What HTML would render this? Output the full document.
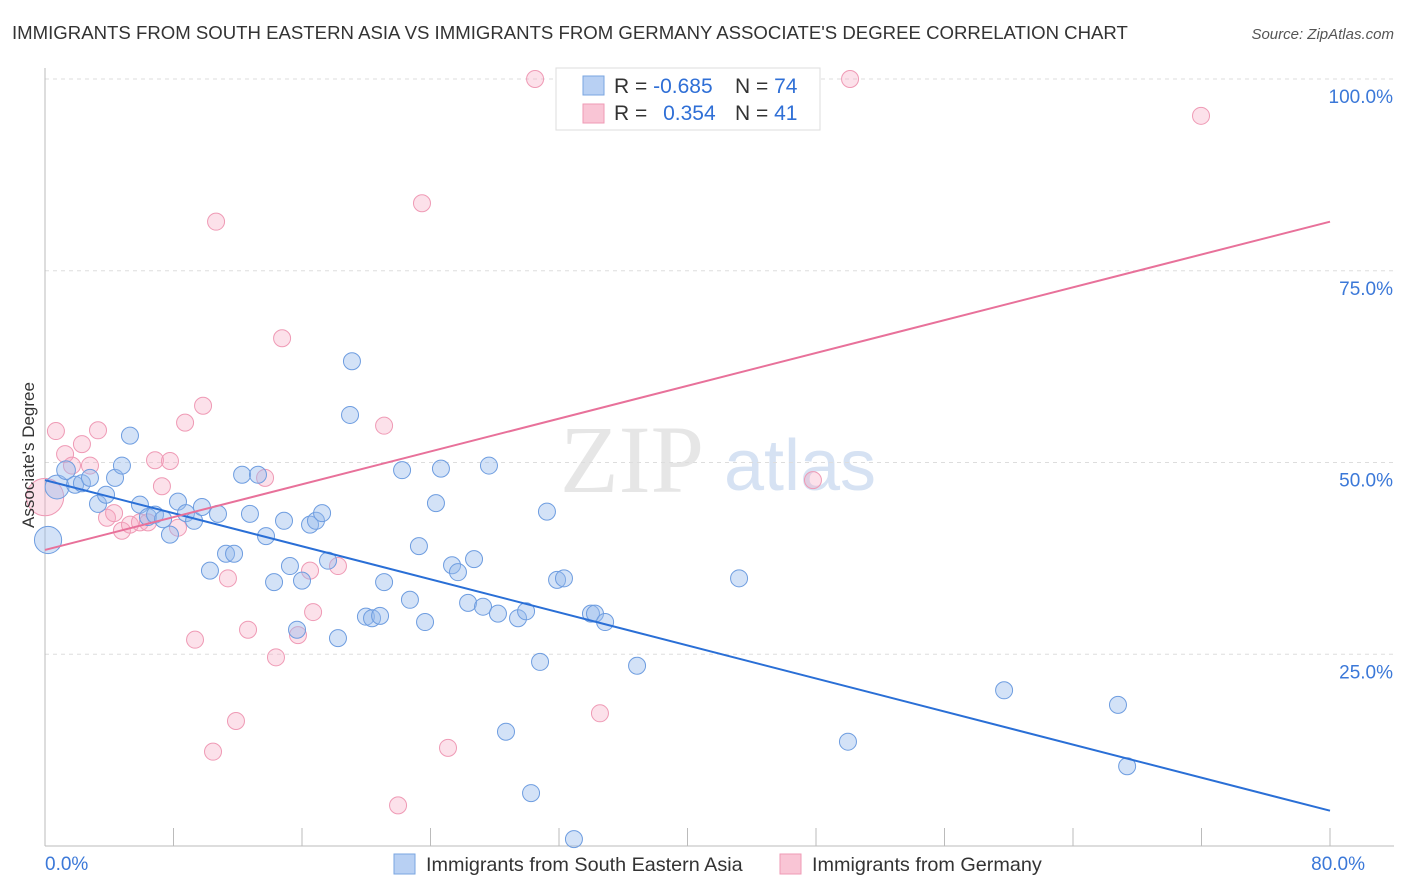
<!DOCTYPE html>
<html><head><meta charset="utf-8"><style>
body{margin:0;background:#fff;font-family:"Liberation Sans",sans-serif;}
svg{display:block}
</style></head><body>
<svg id="chart" width="1406" height="892" xmlns="http://www.w3.org/2000/svg">
<text x="12" y="39" font-size="18.6" fill="#333">IMMIGRANTS FROM SOUTH EASTERN ASIA VS IMMIGRANTS FROM GERMANY ASSOCIATE'S DEGREE CORRELATION CHART</text>
<text x="1394" y="39" font-size="15" fill="#555" font-style="italic" text-anchor="end">Source: ZipAtlas.com</text>
<text x="632" y="492" font-size="96" fill="#e6e6e6" font-family="Liberation Serif,serif" text-anchor="middle">ZIP</text>
<text x="800" y="490" font-size="72" fill="#d6e2f3" text-anchor="middle">atlas</text>
<g id="grid"></g>
<g id="marks"></g>
<text transform="translate(34,455) rotate(-90)" font-size="17" fill="#333" text-anchor="middle">Associate's Degree</text>
<g>
<rect x="556" y="68" width="264" height="62" fill="#fff" stroke="#ddd"/>
<rect x="583" y="76" width="21" height="19" fill="#b8d0f3" stroke="#7aa6e0"/>
<rect x="583" y="104" width="21" height="19" fill="#f9c5d5" stroke="#ef9ab5"/>
<text x="614" y="93" font-size="21" fill="#333">R = <tspan fill="#2f6fd6">-0.685</tspan></text>
<text x="735" y="93" font-size="21" fill="#333">N = <tspan fill="#2f6fd6">74</tspan></text>
<text x="614" y="120" font-size="21" fill="#333">R = <tspan fill="#2f6fd6" dx="10">0.354</tspan></text>
<text x="735" y="120" font-size="21" fill="#333">N = <tspan fill="#2f6fd6">41</tspan></text>
</g>
<g>
<rect x="394" y="854" width="21" height="20" fill="#b8d0f3" stroke="#7aa6e0"/>
<text x="426" y="871" font-size="19.8" fill="#333">Immigrants from South Eastern Asia</text>
<rect x="780" y="854" width="21" height="20" fill="#f9c5d5" stroke="#ef9ab5"/>
<text x="812" y="871" font-size="19.8" fill="#333">Immigrants from Germany</text>
</g>
</svg>
<script>
const blueX=[0.75,1.31,1.87,2.30,2.80,3.30,3.80,4.36,4.79,5.29,5.91,6.41,6.85,7.35,7.78,8.28,8.78,9.28,9.77,10.27,10.77,11.27,11.77,12.27,12.76,13.26,13.76,14.26,14.88,15.25,15.69,16.00,16.50,16.87,17.25,17.62,18.24,18.99,19.11,19.98,20.36,20.86,21.11,22.23,22.72,23.28,23.66,24.34,24.65,25.34,25.71,26.34,26.71,27.27,27.64,28.20,28.70,29.45,29.95,30.26,30.82,31.25,31.88,32.31,32.93,33.99,34.24,34.87,36.86,43.21,49.99,59.71,66.80,67.37,0.19];
const blueY=[46.8,49.0,47.1,47.3,48.0,44.6,45.8,48.0,49.6,53.5,44.5,42.9,43.2,42.6,40.6,44.9,43.4,42.4,44.2,35.9,43.3,38.1,38.1,48.4,43.3,48.4,40.4,34.4,42.4,36.5,28.2,34.6,41.9,42.4,43.4,37.2,27.1,56.2,63.2,29.9,29.7,30.0,34.4,49.0,32.1,39.1,29.2,44.7,49.2,36.6,35.7,31.7,37.4,31.2,49.6,30.3,14.9,29.7,30.6,6.9,24.0,43.6,34.7,34.9,0.9,30.3,30.3,29.2,23.5,34.9,13.6,20.3,18.4,10.4,39.9];
const blueW=[1.4,1.1,1,1,1,1,1,1,1,1,1,1,1,1,1,1,1,1,1,1,1,1,1,1,1,1,1,1,1,1,1,1,1,1,1,1,1,1,1,1,1,1,1,1,1,1,1,1,1,1,1,1,1,1,1,1,1,1,1,1,1,1,1,1,1,1,1,1,1,1,1,1,1,1,1.6];
const pinkX=[0,0.68,1.25,1.68,2.30,2.80,3.30,3.86,4.30,4.79,5.29,5.91,6.41,6.85,7.28,7.78,8.28,8.72,9.34,9.84,10.46,10.65,11.39,11.89,12.64,13.70,14.38,14.76,15.75,16.50,16.69,18.24,21.11,21.98,23.47,25.09,30.51,34.55,47.81,50.12,71.97];
const pinkY=[45.5,54.1,51.1,49.6,52.4,49.6,54.2,42.8,43.4,41.1,41.9,42.2,42.2,50.3,46.9,50.2,41.5,55.2,26.9,57.4,12.3,81.4,34.9,16.3,28.2,48.0,24.6,66.2,27.5,35.9,30.5,36.5,54.8,5.3,83.8,12.8,100,17.3,47.7,100,95.2];
const pinkW=[2.2,1,1,1,1,1,1,1,1,1,1,1,1,1,1,1,1,1,1,1,1,1,1,1,1,1,1,1,1,1,1,1,1,1,1,1,1,1,1,1,1];
const yTicks=[25,50,75,100];
const yTickLabels=["25.0%","50.0%","75.0%","100.0%"];
const xTicks=[0,8,16,24,32,40,48,56,64,72,80];
const xLabelVals=[0,80];
const xLabelText=["0.0%","80.0%"];
const blueLine=[47.7,4.6];
const pinkLine=[38.6,81.4];
const NS="http://www.w3.org/2000/svg";
const X=v=>45+v*(1285/80);
const Y=v=>846-v*7.67;
function mk(tag,at,parent){const e=document.createElementNS(NS,tag);for(const k in at)e.setAttribute(k,at[k]);parent.appendChild(e);return e;}
const grid=document.getElementById('grid'),marks=document.getElementById('marks');
yTicks.forEach((t,i)=>{
 const l=mk('line',{x1:45,x2:1394,y1:Y(t),y2:Y(t),stroke:'#ddd','stroke-dasharray':'4,4'},grid);
 
 
 const tx=mk('text',{x:1393,y:Y(t)+24,'font-size':19,fill:'#3b78d8','text-anchor':'end'},grid);
 tx.textContent=yTickLabels[i];
 
 
});
const ax=mk('line',{x1:45,x2:45,y1:68,y2:846,stroke:'#bbb'},grid);


const bx=mk('line',{x1:45,x2:1394,y1:846,y2:846,stroke:'#bbb'},grid);


xTicks.forEach(t=>{
 const l=mk('line',{x1:X(t),x2:X(t),y1:828,y2:846,stroke:'#bbb'},grid);
 
 
});
xLabelVals.forEach((v,i)=>{
 const tx=mk('text',{x:X(v)+(i==0?0:35),y:870,'font-size':19,fill:'#3b78d8','text-anchor':i==0?'start':'end'},grid);
 tx.textContent=xLabelText[i];
 
 
});
pinkX.forEach((v,i)=>{
 const c=mk('circle',{cx:X(v),cy:Y(pinkY[i]),r:8.5*pinkW[i],fill:'rgba(246,170,196,0.35)',stroke:'#ef9ab5','stroke-width':1},marks);
 
 
});
blueX.forEach((v,i)=>{
 const c=mk('circle',{cx:X(v),cy:Y(blueY[i]),r:8.5*blueW[i],fill:'rgba(150,186,236,0.42)',stroke:'#6e9de0','stroke-width':1},marks);
 
 
});
const bl=mk('line',{x1:X(0),y1:Y(blueLine[0]),x2:X(80),y2:Y(blueLine[1]),stroke:'#2a6fd6','stroke-width':2},marks);


const pl=mk('line',{x1:X(0),y1:Y(pinkLine[0]),x2:X(80),y2:Y(pinkLine[1]),stroke:'#e8719a','stroke-width':2},marks);


</script>
</body></html>
